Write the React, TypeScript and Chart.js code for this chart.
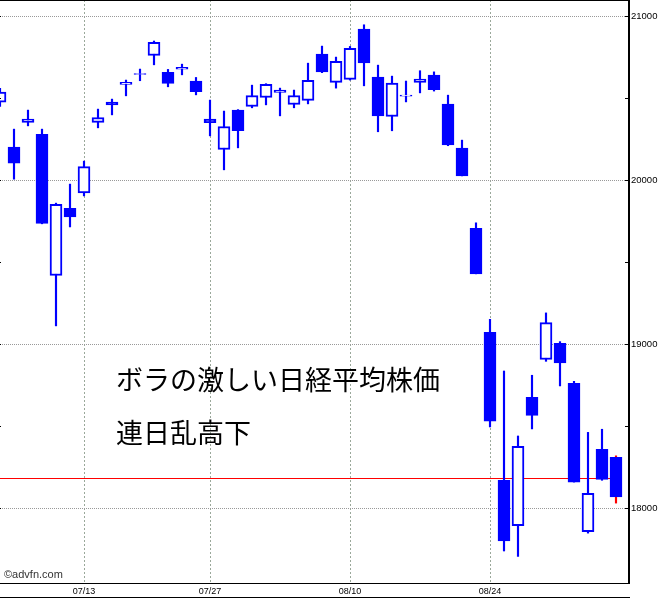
import React, { useEffect, useRef } from 'react';
import { Chart, registerables } from 'chart.js';
Chart.register(...registerables);

const dates = ['07/03','07/06','07/07','07/08','07/09','07/10','07/13','07/14','07/15','07/16','07/17','07/21','07/22','07/23','07/24','07/27','07/28','07/29','07/30','07/31','08/03','08/04','08/05','08/06','08/07','08/10','08/11','08/12','08/13','08/14','08/17','08/18','08/19','08/20','08/21','08/24','08/25','08/26','08/27','08/28','08/31','09/01','09/02','09/03','09/04'];

const opens = [20476,20201,20352,20280,19419,19829,19923,20352,20476,20584,20644,20760,20657,20677,20604,20372,20187,20427,20449,20504,20535,20461,20486,20768,20596,20614,20921,20628,20388,20512,20596,20640,20463,20195,19707,19073,18171,17894,18677,18907,19006,18762,17858,18360,18311];
const highs = [20560,20311,20427,20311,19860,19976,20116,20433,20494,20610,20677,20848,20675,20707,20626,20488,20421,20430,20579,20588,20561,20549,20713,20817,20750,20815,20947,20701,20634,20604,20667,20660,20518,20244,19740,19152,18837,18441,18811,19191,19016,18774,18463,18482,18320];
const lows = [20450,20006,20331,19734,19112,19715,19904,20319,20398,20514,20606,20703,20569,20642,20520,20270,20063,20197,20441,20459,20392,20441,20465,20655,20561,20610,20575,20295,20301,20477,20532,20543,20210,20026,19429,18496,17740,17707,18484,18896,18746,18160,17849,18171,18032];
const closes = [20537,20104,20372,19737,19852,19776,20083,20382,20459,20596,20650,20840,20590,20687,20540,20350,20327,20302,20516,20584,20549,20516,20608,20660,20724,20803,20715,20392,20591,20519,20616,20551,20215,20026,19429,18532,17801,18378,18567,19132,18886,18160,18091,18177,18069];

const tickDates = ['07/13','07/27','08/10','08/24'];
const yTicks = [18000,18500,19000,19500,20000,20500,21000];
const refLevel = 18182;
const titleLines = ['ボラの激しい日経平均株価', '連日乱高下'];
const watermark = '©advfn.com';

const yMin = 17545;
const yMax = 21098;
const xMax = 628 / 14;

const BLUE = '#0000ff';
const RED = '#ff0000';
const FONT = '"Liberation Sans", Arial, sans-serif';

export default function App() {
  const ref = useRef<HTMLCanvasElement>(null);
  useEffect(() => {
    document.body.style.margin = '0';
    const canvas = ref.current!;
    const last = dates.length - 1;
    const framePlugin = {
      id: 'frame',
      beforeDatasetsDraw(chart: any) {
        const ctx = chart.ctx;
        const a = chart.chartArea;
        const y = Math.round(chart.scales.y.getPixelForValue(refLevel));
        const xEnd = chart.scales.x.getPixelForValue(last);
        ctx.save();
        ctx.fillStyle = RED;
        ctx.fillRect(a.left, y, xEnd - a.left, 1);
        ctx.restore();
      },
      afterDraw(chart: any) {
        const ctx = chart.ctx;
        const a = chart.chartArea;
        const ys = chart.scales.y;
        ctx.save();
        ctx.fillStyle = '#000';
        ctx.fillRect(0, 0, a.right + 2, 1);
        ctx.fillRect(a.right, 0, 2, a.bottom + 1);
        ctx.fillRect(0, a.bottom, a.right + 2, 1);
        ctx.fillRect(0, 597, a.right + 2, 1);
        yTicks.forEach((v) => {
          const y = Math.round(ys.getPixelForValue(v));
          ctx.fillRect(a.right - 3, y, 3, 1);
          ctx.fillRect(a.left, y, 1, 1);
        });
        ctx.font = '27px "Noto Sans CJK JP"';
        ctx.textBaseline = 'alphabetic';
        ctx.textAlign = 'left';
        ctx.fillStyle = '#000';
        ctx.fillText(titleLines[0], 116, 390);
        ctx.fillText(titleLines[1], 116, 443);
        ctx.font = '11px ' + FONT;
        ctx.fillStyle = '#333';
        ctx.fillText(watermark, 4, 578);
        ctx.restore();
      },
    };
    const chart = new Chart(canvas, {
      type: 'bar',
      data: {
        datasets: [
          {
            type: 'bar',
            data: dates.map((_, i) => ({ x: i, y: [opens[i], closes[i]] })) as any,
            backgroundColor: dates.map((_, i) => (closes[i] >= opens[i] ? '#ffffff' : BLUE)),
            borderColor: BLUE,
            borderWidth: 2,
            borderSkipped: false,
            barThickness: 12,
            grouped: false,
            order: 0,
          } as any,
          {
            type: 'bar',
            data: dates.map((_, i) => ({ x: i, y: [lows[i], highs[i]] })) as any,
            backgroundColor: dates.map((_, i) => (i === last ? RED : BLUE)),
            borderWidth: 0,
            barThickness: 1.5,
            grouped: false,
            order: 1,
          } as any,
        ],
      },
      options: {
        responsive: false,
        animation: false,
        layout: { padding: 0 },
        plugins: { legend: { display: false }, tooltip: { enabled: false } },
        scales: {
          x: {
            type: 'linear',
            offset: false,
            min: 0,
            max: xMax,
            afterBuildTicks: (s: any) => {
              s.ticks = tickDates.map((d) => ({ value: dates.indexOf(d) }));
            },
            afterFit: (s: any) => {
              s.height = 15;
              s.paddingLeft = 0;
              s.paddingRight = 0;
            },
            ticks: {
              callback: (v: any) => dates[v] ?? '',
              font: { family: FONT, size: 9 },
              color: '#000',
              padding: 3,
              maxRotation: 0,
              autoSkip: false,
            },
            grid: { color: '#9aa89a', drawTicks: false, lineWidth: 1, offset: false },
            border: { display: false, dash: [2, 2] },
          },
          y: {
            position: 'right',
            min: yMin,
            max: yMax,
            afterBuildTicks: (s: any) => {
              s.ticks = yTicks.map((v) => ({ value: v }));
            },
            afterFit: (s: any) => {
              s.width = 33;
              s.paddingTop = 0;
              s.paddingBottom = 0;
            },
            ticks: {
              callback: (v: any) => (v % 1000 === 0 ? String(v) : ''),
              font: { family: FONT, size: 9.5 },
              color: '#000',
              padding: 3,
            },
            grid: {
              color: (c: any) => (c.tick && c.tick.value % 1000 === 0 ? '#999999' : 'rgba(0,0,0,0)'),
              drawTicks: false,
              lineWidth: 1,
            },
            border: { display: false, dash: [1, 1] },
          },
        },
      },
      plugins: [framePlugin],
    });
    return () => chart.destroy();
  }, []);
  return (
    <div style={{ width: 661, height: 598 }}>
      <canvas ref={ref} width={661} height={598} style={{ display: 'block' }} />
    </div>
  );
}
